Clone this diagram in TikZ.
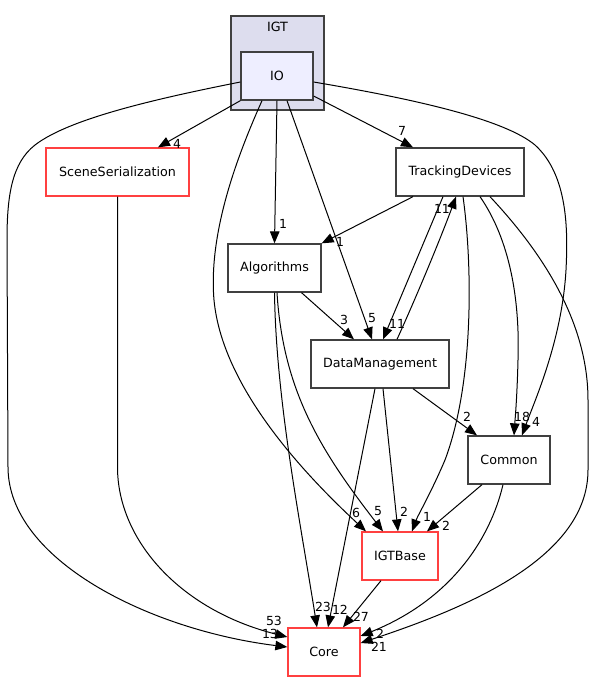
\documentclass[tikz,border=0pt]{standalone}
\usepackage{fontspec}
\setmainfont{DejaVu Sans}
\usetikzlibrary{arrows.meta}
\definecolor{clfill}{HTML}{DDDDEE}
\definecolor{iofill}{HTML}{EEEEFF}
\definecolor{bord}{HTML}{404040}
\definecolor{redb}{HTML}{FF4040}
\begin{document}
\begin{tikzpicture}[x=1pt,y=-1pt,
  dirbox/.style={draw=bord, line width=1.3pt, minimum height=48pt, inner sep=0pt, font=\fontsize{12.7}{15}\selectfont},
  redbox/.style={dirbox, draw=redb},
  dep/.style={line width=1pt, -{Triangle[length=12pt,width=9.5pt]}},
  lbl/.style={font=\fontsize{12.5}{14}\selectfont, inner sep=0pt}]
\useasboundingbox (0,0) rectangle (594,681);
% cluster
\node[draw=bord, fill=clfill, line width=1.3pt, minimum width=93pt, minimum height=94pt, inner sep=0pt] (IGT) at (277.5,63) {};
\node[font=\fontsize{12.7}{15}\selectfont, inner sep=0pt] (IGTlbl) at (277.5,27) {IGT};
% nodes
\node[dirbox, fill=iofill, minimum width=72pt] (IO) at (277,76) {IO};
\node[redbox, minimum width=143pt] (SS) at (117.5,172) {SceneSerialization};
\node[dirbox, minimum width=128pt] (TD) at (460,172) {TrackingDevices};
\node[dirbox, minimum width=93pt] (Alg) at (274.5,268) {Algorithms};
\node[dirbox, minimum width=138pt] (DM) at (380,364) {DataManagement};
\node[dirbox, minimum width=82pt] (Com) at (509,460) {Common};
\node[redbox, minimum width=76pt] (IB) at (400,556) {IGTBase};
\node[redbox, minimum width=72pt] (Core) at (324,652) {Core};
% edges from IO
\draw[dep] (IO.south west) -- ([xshift=40.5pt]SS.north) node[lbl] at (177,144) {4};
\draw[dep] ([yshift=-20pt]IO.east) -- ([xshift=-47pt]TD.north) node[lbl] at (402,131) {7};
\draw[dep] (IO.south) -- (Alg.north) node[lbl] at (283,224) {1};
\draw[dep] ([xshift=10pt]IO.south) -- ([xshift=-8pt]DM.north) node[lbl] at (372,318) {5};
\draw[dep] ([xshift=-15pt]IO.south) .. controls (240,150) and (208,230) .. (214,300)
  .. controls (222,385) and (300,470) .. ([xshift=-34pt]IB.north) node[lbl] at (356,513) {6};
\draw[dep] ([yshift=-6pt]IO.east) .. controls (420,100) and (505,120) .. (535,145)
  .. controls (568,175) and (568,230) .. (566,270)
  .. controls (562,340) and (535,400) .. ([xshift=13pt]Com.north) node[lbl] at (536,422) {4};
\draw[dep] ([yshift=-6pt]IO.west) .. controls (160,98) and (70,118) .. (35,145)
  .. controls (12,163) and (7,195) .. (7,240) -- (8,467)
  .. controls (8,560) and (150,630) .. ([yshift=5pt]Core.west) node[lbl] at (270,634) {13};
% SceneSerialization
\draw[dep] (SS.south) -- (117.5,467) .. controls (117.5,540) and (180,610) .. ([yshift=15pt]Core.west) node[lbl] at (274,621) {53};
% TrackingDevices
\draw[dep] ([xshift=-47pt]TD.south) -- (Alg.north east) node[lbl] at (340,242) {1};
\draw[dep] ([xshift=-17pt]TD.south) -- ([xshift=3pt]DM.north) node[lbl] at (397,324) {11};
\draw[dep] ([xshift=3pt]TD.south) .. controls (472,260) and (475,380) .. (445,460)
  .. controls (430,495) and (418,515) .. ([xshift=12pt]IB.north) node[lbl] at (427,517) {1};
\draw[dep] ([xshift=20pt]TD.south) .. controls (510,240) and (520,300) .. (518,360)
  .. controls (517,400) and (515,420) .. ([xshift=5pt]Com.north) node[lbl] at (522,417) {18};
\draw[dep] ([xshift=30pt]TD.south) .. controls (540,250) and (588,320) .. (588,400) -- (588,470)
  .. controls (588,560) and (460,610) .. ([yshift=9pt]Core.east) node[lbl] at (379,647) {21};
% DataManagement -> TrackingDevices
\draw[dep] ([xshift=17pt]DM.north) .. controls (415,300) and (440,240) .. ([xshift=-4pt]TD.south) node[lbl] at (442,209) {11};
% Algorithms
\draw[dep] ([xshift=27pt]Alg.south) -- ([xshift=-26pt]DM.north) node[lbl] at (344,320) {3};
\draw[dep] ([xshift=2.5pt]Alg.south) .. controls (283,390) and (320,450) .. ([xshift=-17pt]IB.north) node[lbl] at (378,511) {5};
\draw[dep] (Alg.south) .. controls (276,400) and (300,520) .. ([xshift=-7pt]Core.north) node[lbl] at (323,607) {23};
% DataManagement
\draw[dep] ([xshift=33pt]DM.south) -- ([xshift=-32pt]Com.north) node[lbl] at (467,417) {2};
\draw[dep] ([xshift=3pt]DM.south) -- ([xshift=-2pt]IB.north) node[lbl] at (404,512) {2};
\draw[dep] ([xshift=-5pt]DM.south) -- ([xshift=4pt]Core.north) node[lbl] at (340,610) {12};
% IGTBase
\draw[dep] ([xshift=-19pt]IB.south) -- ([xshift=19pt]Core.north) node[lbl] at (361,617) {27};
% Common
\draw[dep] ([xshift=-27pt]Com.south) -- ([xshift=27pt]IB.north) node[lbl] at (446,526) {2};
\draw[dep] ([xshift=-6pt]Com.south) .. controls (490,540) and (450,600) .. ([yshift=16pt]Core.east) node[lbl] at (380,634) {2};
\end{tikzpicture}
\end{document}
